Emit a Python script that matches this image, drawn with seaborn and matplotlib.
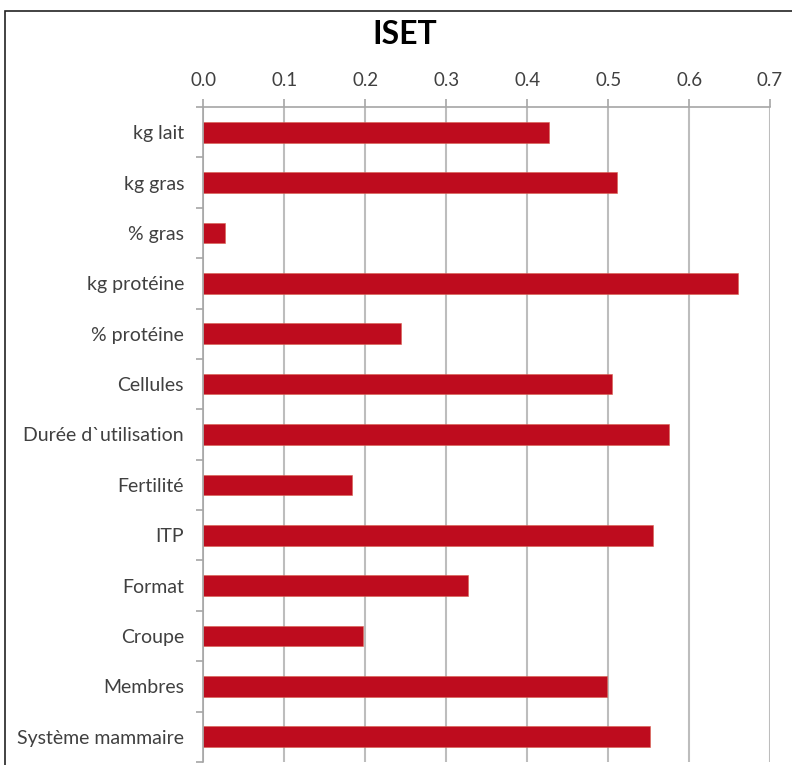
import matplotlib
matplotlib.use("Agg")
import matplotlib.pyplot as plt
import matplotlib.patches as mpatches
import seaborn as sns
import pandas as pd

categories = ["kg lait", "kg gras", "% gras", "kg protéine", "% protéine", "Cellules",
              "Durée d`utilisation", "Fertilité", "ITP", "Format", "Croupe", "Membres",
              "Système mammaire"]
values = [0.427, 0.511, 0.027, 0.661, 0.244, 0.505, 0.575, 0.184, 0.556, 0.327, 0.197, 0.498, 0.552]
xticks = [0.0, 0.1, 0.2, 0.3, 0.4, 0.5, 0.6, 0.7]
title = "ISET"

sns.set_style("white")
plt.rcParams['font.family'] = ['Lato', 'DejaVu Sans']

df = pd.DataFrame({"cat": categories, "val": values})

fig = plt.figure(figsize=(7.92, 7.65), dpi=100)
W, H = 792, 765
x0, x1 = 203.5, 770.0
y_top, y_bot = 107.0, 762.0
ax = fig.add_axes([x0 / W, 1 - y_bot / H, (x1 - x0) / W, (y_bot - y_top) / H])

sns.barplot(data=df, x="val", y="cat", orient="h", color="#BE0C1E", width=0.41,
            saturation=1, ax=ax, edgecolor="#D8604F", linewidth=0.4)

ax.set_xlim(0, 0.7)
ax.set_ylim(len(categories) - 0.5, -0.5)
ax.set_xticks(xticks)
ax.set_xticklabels([f"{t:.1f}" for t in xticks])
ax.xaxis.tick_top()
ax.grid(axis="x", color="#BDBDBD", linewidth=1.5)
ax.set_axisbelow(True)
ax.set_xlabel("")
ax.set_ylabel("")

for s in ["right", "bottom"]:
    ax.spines[s].set_visible(False)
for s in ["top", "left"]:
    ax.spines[s].set_color("#A6A6A6")
    ax.spines[s].set_linewidth(1.2)

ax.set_yticks(range(len(categories)))
ax.set_yticklabels(categories)
ax.set_yticks([i - 0.5 for i in range(len(categories) + 1)], minor=True)
ax.tick_params(axis="y", which="major", length=0, pad=14, labelsize=14, labelcolor="#404040")
ax.tick_params(axis="y", which="minor", length=5, width=1.2, color="#A6A6A6", left=True)
ax.tick_params(axis="x", which="major", length=6, width=1.2, color="#A6A6A6", pad=7,
               labelsize=13.5, labelcolor="#404040", top=True, bottom=False)

fig.text(405 / W, 1 - 35 / H, title, ha="center", va="center", fontsize=23, fontweight="bold",
         color="black")

frame = mpatches.Rectangle((5 / W, -0.05), 1.2, 1 - 11 / H + 0.05, transform=fig.transFigure,
                           fill=False, edgecolor="#222222", linewidth=1.2, clip_on=False)
fig.patches.append(frame)

fig.savefig("out.png", dpi=100)
